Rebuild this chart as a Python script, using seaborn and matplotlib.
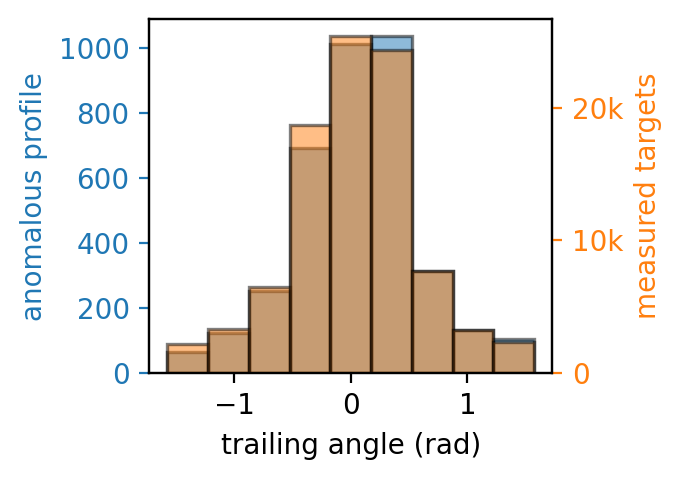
import numpy as np
import pandas as pd
import matplotlib
matplotlib.use("Agg")
import matplotlib.pyplot as plt
import seaborn as sns

# bin edges: nine equal bins between -pi/2 and pi/2
bin_edges = list(np.linspace(-np.pi / 2, np.pi / 2, 10))
bin_centers = [(a + b) / 2 for a, b in zip(bin_edges[:-1], bin_edges[1:])]

anomalous_counts = [65, 123, 253, 693, 1015, 1038, 313, 132, 105]
measured_counts = [2150, 3300, 6500, 18700, 25430, 24370, 7700, 3225, 2340]

df = pd.DataFrame({"angle": bin_centers,
                   "anomalous": anomalous_counts,
                   "measured": measured_counts})

fig, ax = plt.subplots(figsize=(3.405, 2.4), dpi=200)
ax2 = ax.twinx()

edge = (0, 0, 0, 0.5)
sns.histplot(data=df, x="angle", weights="anomalous", bins=bin_edges, ax=ax,
             color="C0", alpha=0.5, edgecolor=edge, linewidth=1.2)
sns.histplot(data=df, x="angle", weights="measured", bins=bin_edges, ax=ax2,
             color="C1", alpha=0.5, edgecolor=edge, linewidth=1.2)

ax.set_xlabel("trailing angle (rad)")
ax.set_ylabel("anomalous profile", color="C0")
ax.tick_params(axis="y", colors="C0")
ax2.set_ylabel("measured targets", color="C1")
ax2.tick_params(axis="y", colors="C1")
ax2.set_yticks([0, 10000, 20000])
ax2.yaxis.set_major_formatter(
    matplotlib.ticker.FuncFormatter(lambda v, p: "0" if v == 0 else f"{v / 1000:.0f}k"))

fig.subplots_adjust(left=0.219, right=0.811, top=0.960, bottom=0.223)
fig.savefig("out.png", dpi=200)
